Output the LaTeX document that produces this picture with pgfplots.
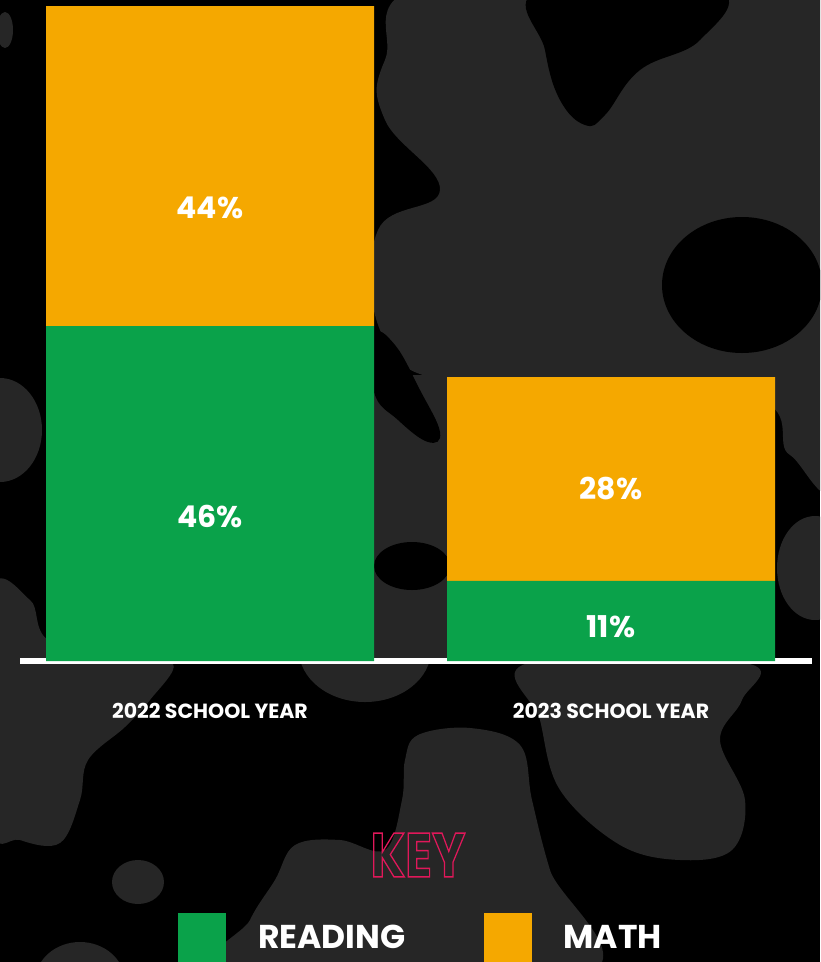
\documentclass[border=0pt]{standalone}
\usepackage{fontspec}
\setmainfont{Poppins}
\usepackage{graphicx}
\usepackage{pgfplots}
\pgfplotsset{compat=1.18}
\definecolor{readgreen}{HTML}{0AA24A}
\definecolor{mathorange}{HTML}{F5A800}
\definecolor{blobgray}{HTML}{262626}
\definecolor{keypink}{HTML}{E0185A}
\begin{document}
\begin{tikzpicture}
\useasboundingbox (0,0) rectangle (820pt,-962pt);
\begin{scope}
\clip (0,0) rectangle (820pt,-962pt);
\fill[black] (0,0) rectangle (820pt,-962pt);
\begin{scope}[x=1pt,y=-1pt]
% decorative background blobs
\fill[blobgray] plot[smooth cycle, tension=0.7] coordinates {(445,-20) (840,-20) (845,450) (790,455) (760,400) (600,385) (440,380) (380,330) (378,230) (440,190) (385,120) (385,60)};
\fill[blobgray] (372,375) rectangle (449,662);
\fill[black] plot[smooth cycle, tension=0.7] coordinates {(374,335) (395,345) (420,390) (440,432) (428,442) (398,420) (374,392)};
\fill[black] (412,566) ellipse [x radius=38, y radius=24];
\fill[black] plot[smooth cycle, tension=0.7] coordinates {(540,-10) (716,-10) (700,40) (640,70) (605,115) (585,125) (560,100) (545,50)};
\fill[black] (742,285) ellipse [x radius=80, y radius=68];
\fill[blobgray] (0,430) ellipse [x radius=42, y radius=52];
\fill[blobgray] (5,30) ellipse [x radius=8, y radius=18];
\fill[blobgray] (815,568) ellipse [x radius=38, y radius=52];
\fill[blobgray] plot[smooth cycle, tension=0.6] coordinates {(-10,595) (30,600) (48,640) (120,662) (173,664) (150,700) (125,727) (88,760) (80,800) (60,843) (20,840) (-10,820)};
\fill[blobgray] (365,650) ellipse [x radius=66, y radius=52];
\fill[blobgray] plot[smooth cycle, tension=0.6] coordinates {(528,663) (745,663) (742,700) (720,740) (745,800) (732,850) (680,860) (620,845) (560,790) (540,720)};
\fill[blobgray] plot[smooth cycle, tension=0.6] coordinates {(418,735) (470,728) (520,745) (532,800) (550,870) (585,975) (230,975) (250,920) (275,880) (295,845) (340,840) (385,850) (402,800) (405,760)};
\fill[blobgray] (138,882) ellipse [x radius=26, y radius=22];
\fill[blobgray] (80,982) ellipse [x radius=45, y radius=40];
\end{scope}
\end{scope}
\begin{axis}[
  at={(20pt,-661pt)}, anchor=south west,
  scale only axis, width=792pt, height=655pt,
  ybar stacked, bar width=328pt,
  xmin=-0.4738, xmax=1.5012, ymin=0, ymax=90,
  enlargelimits=false, clip=false,
  axis y line=none, axis x line*=bottom,
  x axis line style={draw=white, line width=6pt, -},
  xtick={0,1}, xticklabels={2022 SCHOOL YEAR,2023 SCHOOL YEAR},
  major tick length=0pt,
  xticklabel style={anchor=center, yshift=-50pt, text=white, font=\fontsize{20.5}{20.5}\selectfont\bfseries},
  /pgf/number format/assume math mode=true,
  nodes near coords={\pgfmathprintnumber{\pgfplotspointmeta}\%},
  every node near coord/.append style={anchor=center, text=white, font=\fontsize{30}{30}\selectfont\bfseries, yshift=-\labeloff pt},
  legend style={at={(rel axis cs:0.1995,-0.4229)}, anchor=west, draw=none, fill=none, text=white,
    font=\fontsize{33}{33}\selectfont\bfseries, legend columns=2, inner sep=0pt,
    nodes={inner sep=0pt},
    /tikz/every odd column/.append style={column sep=32pt},
    /tikz/every even column/.append style={column sep=78pt}},
]
\addplot[fill=readgreen, draw=none, visualization depends on={value \thisrow{off} \as \labeloff},
  legend image code/.code={\fill[readgreen] (0pt,-25pt) rectangle (48pt,25pt);}]
  table[row sep=\\, x=x, y=y] {x y off\\ 0 46 23\\ 1 11 5.5\\};
\addplot[fill=mathorange, draw=none, visualization depends on={value \thisrow{off} \as \labeloff},
  legend image code/.code={\fill[mathorange] (0pt,-25pt) rectangle (48pt,25pt);}]
  table[row sep=\\, x=x, y=y] {x y off\\ 0 44 41.5\\ 1 28 9\\};
\legend{READING, MATH}
\end{axis}
\node[text=keypink] at (418pt,-855pt) {\fontsize{62}{62}\selectfont\bfseries\scalebox{0.8}[1]{\special{pdf:literal direct 1 Tr 1.5 w}KEY\special{pdf:literal direct 0 Tr}}};
\end{tikzpicture}
\end{document}
